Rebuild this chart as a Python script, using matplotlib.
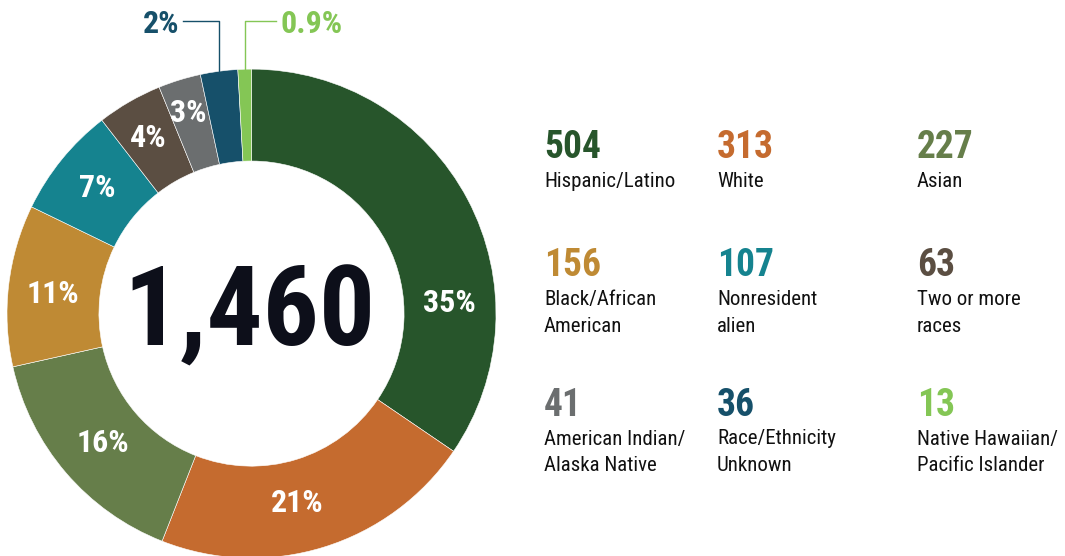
import numpy as np
import matplotlib
matplotlib.use("Agg")
import matplotlib.pyplot as plt
from matplotlib import font_manager

names = set(f.name for f in font_manager.fontManager.ttflist)
narrow = None
for cand in ['Roboto Condensed', 'Liberation Sans Narrow', 'Open Sans Condensed', 'DejaVu Sans Condensed']:
    if cand in names:
        narrow = cand
        break
if narrow:
    plt.rcParams['font.family'] = [narrow, 'DejaVu Sans']
    k = 1.0
else:
    plt.rcParams['font.family'] = ['Liberation Sans', 'DejaVu Sans']
    k = 0.87

# data
groups = ["Hispanic/Latino", "White", "Asian", "Black/African\nAmerican",
          "Nonresident\nalien", "Two or more\nraces", "American Indian/\nAlaska Native",
          "Race/Ethnicity\nUnknown", "Native Hawaiian/\nPacific Islander"]
counts = [504, 313, 227, 156, 107, 63, 41, 36, 13]
colors = ["#27552B", "#C56B2F", "#667E4A", "#BF8A34", "#15838F",
          "#5B4E42", "#6B6E6F", "#16506A", "#84C655"]

total = sum(counts)

def pct_text(v):
    p = 100 * v / total
    if p < 1:
        return "%.1f%%" % p
    return "%d%%" % int(np.floor(p + 0.5))

# label baselines inside the ring (data units, ring radius = 1)
inner_pos = [(0.808, 0.007), (0.185, -0.813), (-0.606, -0.566), (-0.813, 0.043),
             (-0.630, 0.478), (-0.422, 0.681), (-0.258, 0.782)]

W, H = 1065, 556
fig = plt.figure(figsize=(W / 100, H / 100), dpi=100)

cx, cy, R = 251.5, 242.4, 244.5
ax = fig.add_axes([(cx - R) / W, (cy - R) / H, 2 * R / W, 2 * R / H])
wedges, _ = ax.pie(counts, colors=colors, startangle=90, counterclock=False,
                   radius=1, wedgeprops=dict(width=0.376, edgecolor='white', linewidth=0.4))
ax.set_xlim(-1, 1)
ax.set_ylim(-1, 1)
ax.set_aspect('equal')
ax.axis('off')

pct_size = 23 * k
for i, (x, y) in enumerate(inner_pos):
    ax.text(x, y, pct_text(counts[i]), color='white', fontsize=pct_size, fontweight='bold',
            ha='center', va='baseline')

# small slices: labels outside with leader lines
lead_y = 1.195
text_y = 1.146
outside = [(7, -0.280, -0.296, 'right'), (8, 0.100, 0.120, 'left')]
for i, x_end, x_txt, ha in outside:
    w = wedges[i]
    mid = np.deg2rad((w.theta1 + w.theta2) / 2)
    xm = np.cos(mid)
    ym = np.sin(mid)
    ax.plot([x_end, xm, xm], [lead_y, lead_y, ym], color=colors[i], lw=1, clip_on=False)
    ax.text(x_txt, text_y, pct_text(counts[i]), color=colors[i], fontsize=pct_size,
            fontweight='bold', ha=ha, va='baseline', clip_on=False)

ax.text(-0.007, -0.130, "{:,}".format(total), color='#0D0F1A', fontsize=80 * k,
        fontweight='bold', ha='center', va='baseline')

# legend grid on the right
col_x = [544, 717, 917]
row_y = [144, 262, 401.5]
for i, (g, c) in enumerate(zip(groups, counts)):
    x = col_x[i % 3]
    y = row_y[i // 3]
    fig.text(x / W, 1 - (y + 14) / H, str(c), color=colors[i], fontsize=27 * k,
             fontweight='bold', ha='left', va='baseline')
    for j, line in enumerate(g.split("\n")):
        fig.text(x / W, 1 - (y + 43 + 26.5 * j) / H, line, color='#111111',
                 fontsize=15 * k, ha='left', va='baseline')

fig.savefig("out.png", dpi=100)
